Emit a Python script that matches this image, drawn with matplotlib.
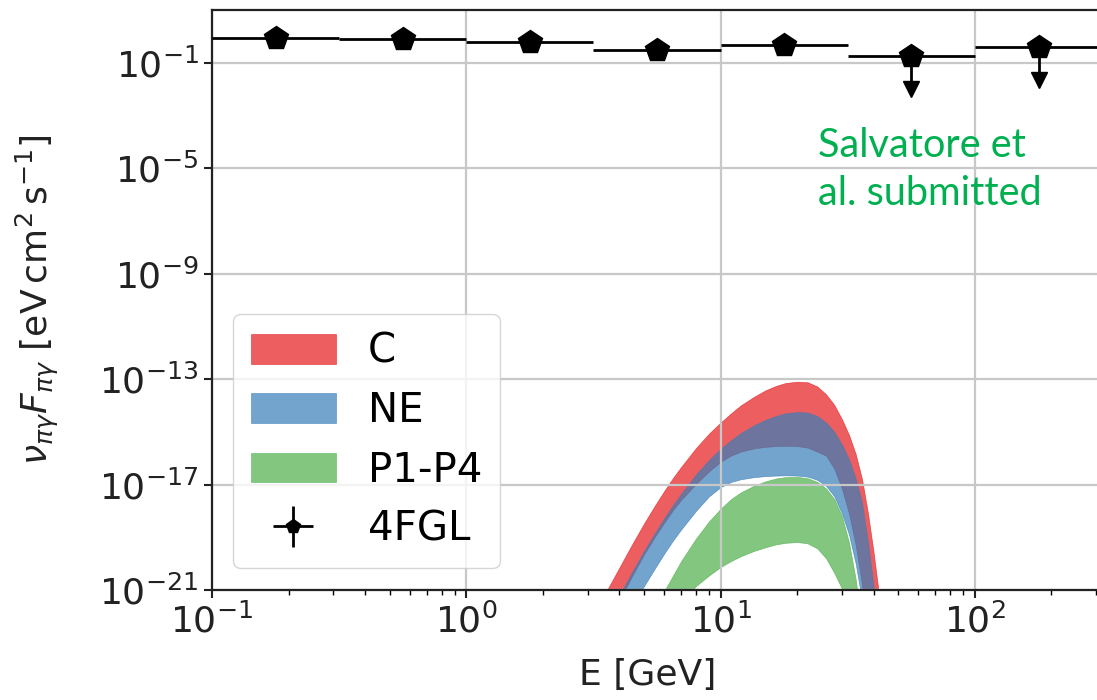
import numpy as np
import matplotlib
matplotlib.use('Agg')
import matplotlib.pyplot as plt
from matplotlib.ticker import NullLocator, FixedLocator

# ---------------- data ----------------
# 4FGL spectral points
fgl_E = [0.178, 0.562, 1.78, 5.62, 17.8, 56.2, 178.0]
fgl_E_lo = [0.1, 0.316, 1.0, 3.16, 10.0, 31.6, 100.0]
fgl_E_hi = [0.316, 1.0, 3.16, 10.0, 31.6, 100.0, 316.0]
fgl_flux = [0.86, 0.79, 0.61, 0.30, 0.47, 0.18, 0.39]
fgl_ul = [False, False, False, False, False, True, True]

# model bands: log10 of nu F_nu [eV cm^2 s^-1] read at these energies [GeV]
band_E = [3.0, 3.5, 4.0, 4.5, 5.0, 5.5, 6.0, 6.5, 7.0, 8.0, 9.0, 10, 11, 12, 13.5, 15, 16.5,
          18, 20, 22, 24, 26, 28, 30, 32, 34, 36, 38, 40, 42, 44]
C_hi = [-22.4, -21.17, -20.15, -19.25, -18.48, -17.82, -17.25, -16.75, -16.33, -15.62, -15.07,
        -14.65, -14.3, -14.0, -13.68, -13.43, -13.26, -13.15, -13.1, -13.12, -13.28, -13.58,
        -13.98, -14.52, -15.12, -15.85, -16.8, -18.1, -19.6, -21.2, -23.0]
C_lo = [-24.0, -22.6, -21.4, -20.45, -19.65, -19.0, -18.45, -17.97, -17.58, -16.98, -16.5,
        -16.14, -15.9, -15.75, -15.63, -15.57, -15.54, -15.53, -15.54, -15.6, -15.75, -15.9,
        -16.4, -17.15, -18.1, -19.3, -20.8, -22.6, -24.6, -27.0, -29.5]
NE_hi = [-23.5, -22.25, -21.2, -20.3, -19.52, -18.86, -18.28, -17.78, -17.35, -16.62, -16.07,
         -15.65, -15.32, -15.05, -14.76, -14.55, -14.4, -14.3, -14.25, -14.27, -14.4, -14.65,
         -15.0, -15.48, -16.05, -16.78, -17.7, -19.2, -20.9, -22.8, -24.8]
NE_lo = [-25.7, -24.0, -22.6, -21.6, -20.85, -20.2, -19.62, -19.12, -18.7, -18.0, -17.45,
         -17.1, -16.9, -16.8, -16.72, -16.68, -16.66, -16.65, -16.66, -16.7, -16.82, -17.05,
         -17.45, -18.1, -18.9, -20.0, -21.4, -23.1, -25.0, -27.3, -30.0]
P_hi = [-26.8, -25.5, -24.35, -23.36, -22.49, -21.73, -21.05, -20.45, -19.9, -19.05, -18.4,
        -17.92, -17.55, -17.3, -17.05, -16.88, -16.77, -16.72, -16.71, -16.76, -16.9, -17.15,
        -17.55, -18.2, -19.2, -20.6, -22.4, -24.5, -27.0, -29.5, -32.0]
P_lo = [-29.5, -27.8, -26.4, -25.2, -24.2, -23.3, -22.54, -21.91, -21.43, -20.85, -20.45,
        -20.13, -19.9, -19.72, -19.52, -19.38, -19.27, -19.21, -19.18, -19.23, -19.42, -19.8,
        -20.35, -20.95, -21.7, -22.6, -23.7, -25.0, -26.5, -28.0, -30.0]

band_labels = ['C', 'NE', 'P1-P4']
band_colors = ['#e41a1c', '#377eb8', '#4daf4a']

y_ticks = [1e-21, 1e-17, 1e-13, 1e-9, 1e-5, 1e-1]
x_ticks = [0.1, 1, 10, 100]

# ---------------- figure ----------------
W, H = 1097, 700
fig = plt.figure(figsize=(W / 100, H / 100), dpi=100)
ax = fig.add_axes([212 / W, 110 / H, 890 / W, 580 / H])

FS = 26
E = np.array(band_E)
bands = [(C_hi, C_lo), (NE_hi, NE_lo), (P_hi, P_lo)]
handles = []
for (hi, lo), lab, col in zip(bands, band_labels, band_colors):
    h = ax.fill_between(E, 10 ** np.array(lo), 10 ** np.array(hi), color=col, alpha=0.7,
                        lw=0.5, label=lab)
    handles.append(h)

fx = np.array(fgl_E)
fy = np.array(fgl_flux)
ul = np.array(fgl_ul)
xerr = np.vstack([fx - np.array(fgl_E_lo), np.array(fgl_E_hi) - fx])
drop = 10 ** -1.25
yerr = np.vstack([np.where(ul, fy * (1 - drop), 0.0), np.zeros_like(fy)])
eb = ax.errorbar(fx, fy, xerr=xerr, yerr=yerr, fmt='p', color='black', ms=18,
                 elinewidth=2.0, capsize=0, label='4FGL', zorder=5)
ax.plot(fx[ul], fy[ul] * drop, 'v', color='black', ms=12, zorder=5)
handles.append(eb)

ax.set_xscale('log')
ax.set_yscale('log')
ax.set_xlim(0.1, 10 ** 2.5)
ax.set_ylim(1e-21, 1e1)
ax.yaxis.set_major_locator(FixedLocator(y_ticks))
ax.yaxis.set_minor_locator(NullLocator())
ax.xaxis.set_major_locator(FixedLocator(x_ticks))

ax.grid(True, which='major', color='#c8c8c8', lw=1.6)
for s in ax.spines.values():
    s.set_linewidth(1.6)
    s.set_color('#222222')
ax.tick_params(which='major', length=6, width=1.5, labelsize=FS, direction='out', colors='#222222')
ax.tick_params(which='minor', length=3.5, width=1.0, direction='out')

ax.set_xlabel('E [GeV]', fontsize=FS, color='#222222')
ax.xaxis.set_label_coords(0.49, -0.118)
ax.set_ylabel(r'$\nu_{\pi\gamma}F_{\pi\gamma}$ $[\mathrm{eV\,cm^2\,s^{-1}}]$', fontsize=FS,
              color='#222222')
ax.yaxis.set_label_coords(-0.17, 0.5)

leg = ax.legend(handles=handles, labels=band_labels + ['4FGL'], loc='lower left',
                bbox_to_anchor=(0.0235, 0.038), borderaxespad=0, fontsize=29,
                handlelength=2.1, handleheight=0.75, labelspacing=0.48, handletextpad=0.8,
                borderpad=0.45, markerscale=0.6, framealpha=0.8, edgecolor='#cccccc')

fig.text(818 / W, 1 - 127 / H, 'Salvatore et\nal. submitted', color='#00b050', fontsize=28.5,
         family=['Lato', 'DejaVu Sans'], va='top', ha='left', linespacing=1.38)

fig.savefig('out.png', dpi=100)
